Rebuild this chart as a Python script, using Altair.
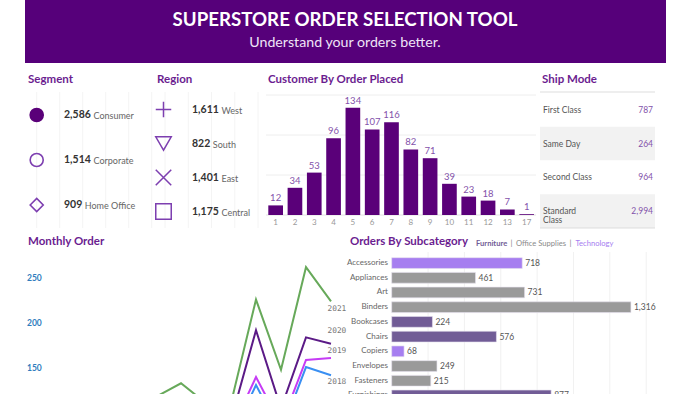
import altair as alt
import pandas as pd

# ---------------- data ----------------
segments = ["Consumer", "Corporate", "Home Office"]
segment_orders = [2586, 1514, 909]

regions = ["West", "South", "East", "Central"]
region_orders = [1611, 822, 1401, 1175]

orders_placed = ["1", "2", "3", "4", "5", "6", "7", "8", "9", "10", "11", "12", "13", "17"]
customer_counts = [12, 34, 53, 96, 134, 107, 116, 82, 71, 39, 23, 18, 7, 1]

ship_modes = ["First Class", "Same Day", "Second Class", "Standard Class"]
ship_orders = [787, 264, 964, 2994]

months = [1, 2, 3, 4, 5, 6, 7, 8, 9, 10, 11, 12]
years = ["2018", "2019", "2020", "2021"]
orders_2018 = [32, 28, 71, 66, 69, 66, 65, 72, 131, 78, 151, 142]
orders_2019 = [31, 29, 71, 73, 70, 69, 72, 80, 140, 87, 159, 161]
orders_2020 = [44, 47, 92, 92, 104, 98, 98, 92, 192, 105, 184, 177]
orders_2021 = [69, 53, 118, 116, 118, 133, 111, 111, 226, 148, 262, 224]

subcategories = ["Accessories", "Appliances", "Art", "Binders", "Bookcases", "Chairs",
                 "Copiers", "Envelopes", "Fasteners", "Furnishings", "Labels", "Machines",
                 "Paper", "Phones", "Storage", "Supplies", "Tables"]
subcategory_orders = [718, 461, 731, 1316, 224, 576, 68, 249, 215, 877, 357, 115,
                      1191, 814, 796, 184, 315]
subcategory_group = ["Technology", "Office Supplies", "Office Supplies", "Office Supplies",
                     "Furniture", "Furniture", "Technology", "Office Supplies",
                     "Office Supplies", "Furniture", "Office Supplies", "Technology",
                     "Office Supplies", "Technology", "Office Supplies", "Office Supplies",
                     "Furniture"]
groups = ["Furniture", "Office Supplies", "Technology"]

# ---------------- style ----------------
FONT = "Lato"
HEADER_BG = "#56007a"
TITLE_PURPLE = "#6b1d90"
BAR_PURPLE = "#5a0079"
SHAPE_PURPLE = "#7d3fb0"
LABEL_PURPLE = "#8352aa"
DARK_TEXT = "#333333"
GREY_TEXT = "#666666"
GRID = "#eeeeee"
YEAR_COLORS = ["#3a8ff2", "#c63cf5", "#5b1a86", "#67a95a"]
GROUP_COLORS = ["#715c96", "#9a9a9a", "#a67ef0"]
NUM_SIZE = 10.5

ONE = pd.DataFrame({"k": [0]})


def text_at(txt, x, y, size, color, weight="normal", align="left", font=FONT):
    return alt.Chart(ONE).mark_text(
        text=txt, align=align, baseline="middle", fontSize=size,
        fontWeight=weight, color=color, font=font
    ).encode(x=alt.value(x), y=alt.value(y))


def num_width(s):
    # approximate rendered width of a bold number in NUM_SIZE px Lato
    return sum(0.25 * NUM_SIZE if ch == "," else 0.58 * NUM_SIZE for ch in s)


# ---------------- header ----------------
header = alt.layer(
    alt.Chart(ONE).mark_rect(color=HEADER_BG).encode(
        x=alt.value(25), x2=alt.value(666), y=alt.value(0), y2=alt.value(63)),
    text_at("SUPERSTORE ORDER SELECTION TOOL", 345, 20, 18.7, "white", "bold", "center"),
    text_at("Understand your orders better.", 345, 43, 14.2, "#efe4f7", "normal", "center"),
)

titles = alt.layer(
    text_at("Segment", 28, 80, 11.5, TITLE_PURPLE, "bold"),
    text_at("Region", 157, 80, 11.5, TITLE_PURPLE, "bold"),
    text_at("Customer By Order Placed", 268, 80, 11.5, TITLE_PURPLE, "bold"),
    text_at("Ship Mode", 542, 80, 11.5, TITLE_PURPLE, "bold"),
    text_at("Monthly Order", 28, 242, 11.5, TITLE_PURPLE, "bold"),
    text_at("Orders By Subcategory", 350, 242, 11.5, TITLE_PURPLE, "bold"),
)

# ---------------- segment ----------------
seg_df = pd.DataFrame({"segment": segments, "orders": segment_orders})
seg_df["num"] = seg_df["orders"].map("{:,}".format)
seg_df["name_x"] = 64 + seg_df["num"].map(num_width) + 2.5

seg_y = alt.Y("segment:N", sort=segments, axis=None,
              scale=alt.Scale(domain=segments, range=[115, 205], padding=0))
seg_grid = alt.Chart(pd.DataFrame({"g": [0, 1, 2, 3, 4, 5]})).mark_rule(
    color="#f4f4f4", strokeWidth=1).encode(
    x=alt.X("g:Q", axis=None, scale=alt.Scale(domain=[0, 5], range=[36.7, 151.7])),
    y=alt.value(92), y2=alt.value(228))
seg_points = alt.Chart(seg_df).mark_point(strokeWidth=1.6, size=170, opacity=1).encode(
    x=alt.value(36.7), y=seg_y,
    shape=alt.Shape("segment:N", legend=None,
                    scale=alt.Scale(domain=segments, range=["circle", "circle", "diamond"])),
    fill=alt.Fill("segment:N", legend=None,
                  scale=alt.Scale(domain=segments, range=[BAR_PURPLE, "transparent", "transparent"])),
    stroke=alt.Stroke("segment:N", legend=None,
                      scale=alt.Scale(domain=segments, range=[BAR_PURPLE, SHAPE_PURPLE, SHAPE_PURPLE])),
)
seg_nums = alt.Chart(seg_df).mark_text(
    align="left", baseline="middle", fontSize=NUM_SIZE, fontWeight="bold", color=DARK_TEXT, font=FONT
).encode(x=alt.value(64), y=seg_y, text="num:N")
seg_names = alt.Chart(seg_df).mark_text(
    align="left", baseline="middle", fontSize=9, color=GREY_TEXT, font=FONT, dy=1
).encode(x=alt.X("name_x:Q", scale=None), y=seg_y, text="segment:N")
segment_panel = alt.layer(seg_grid, seg_points, seg_nums, seg_names)

# ---------------- region ----------------
reg_df = pd.DataFrame({"region": regions, "orders": region_orders})
reg_df["num"] = reg_df["orders"].map("{:,}".format)
reg_df["name_x"] = 192 + reg_df["num"].map(num_width) + 2.5

reg_y = alt.Y("region:N", sort=regions, axis=None,
              scale=alt.Scale(domain=regions, range=[109.5, 211.5], padding=0))
reg_grid = alt.Chart(pd.DataFrame({"g": [0, 1, 2, 3, 4]})).mark_rule(
    color="#f4f4f4", strokeWidth=1).encode(
    x=alt.X("g:Q", axis=None, scale=alt.Scale(domain=[0, 4], range=[165, 258])),
    y=alt.value(92), y2=alt.value(228))
region_shapes = ["M-1,0H1M0,-1V1", "triangle-down", "M-1,-1L1,1M-1,1L1,-1", "square"]
reg_points = alt.Chart(reg_df).mark_point(
    strokeWidth=1.5, size=240, color=SHAPE_PURPLE, opacity=1, filled=False).encode(
    x=alt.value(163.5), y=reg_y,
    shape=alt.Shape("region:N", legend=None,
                    scale=alt.Scale(domain=regions, range=region_shapes)),
)
reg_nums = alt.Chart(reg_df).mark_text(
    align="left", baseline="middle", fontSize=NUM_SIZE, fontWeight="bold", color=DARK_TEXT, font=FONT
).encode(x=alt.value(192), y=reg_y, text="num:N")
reg_names = alt.Chart(reg_df).mark_text(
    align="left", baseline="middle", fontSize=9, color=GREY_TEXT, font=FONT, dy=1
).encode(x=alt.X("name_x:Q", scale=None), y=reg_y, text="region:N")
region_panel = alt.layer(reg_grid, reg_points, reg_nums, reg_names)

# ---------------- customers by orders placed ----------------
cust_df = pd.DataFrame({"placed": orders_placed, "customers": customer_counts})
cx = alt.X("placed:N", sort=orders_placed, axis=None,
           scale=alt.Scale(domain=orders_placed, range=[268.3, 534],
                           paddingInner=0.24, paddingOuter=0))
cy = alt.Y("customers:Q", axis=None, scale=alt.Scale(domain=[0, 150], range=[215, 95]))
cust_grid = alt.Chart(pd.DataFrame({"customers": [50, 100, 150]})).mark_rule(
    color=GRID, strokeWidth=1).encode(y=cy, x=alt.value(266), x2=alt.value(536))
cust_base = alt.Chart(pd.DataFrame({"customers": [0]})).mark_rule(
    color="#e2e2e2", strokeWidth=1).encode(y=cy, x=alt.value(266), x2=alt.value(536))
cust_bars = alt.Chart(cust_df).mark_bar(color=BAR_PURPLE).encode(x=cx, y=cy)
cust_labels = alt.Chart(cust_df).mark_text(
    baseline="bottom", dy=-2, fontSize=9.5, color=LABEL_PURPLE, font=FONT
).encode(x=cx, y=cy, text="customers:Q")
cust_ticks = alt.Chart(cust_df).mark_text(
    baseline="middle", fontSize=8, color="#999999", font=FONT
).encode(x=cx, y=alt.value(223), text="placed:N")
customer_panel = alt.layer(cust_grid, cust_base, cust_bars, cust_labels, cust_ticks)

# ---------------- ship mode table ----------------
ship_df = pd.DataFrame({"mode": ship_modes, "orders": ship_orders})
ship_df["label"] = ship_df["mode"].map(lambda s: s.replace(" ", "\n") if len(s) > 12 else s)
ship_df["value"] = ship_df["orders"].map("{:,}".format)
sy = alt.Y("mode:N", sort=ship_modes, axis=None,
           scale=alt.Scale(domain=ship_modes, range=[93, 228], paddingInner=0, paddingOuter=0))
ship_rows = alt.Chart(ship_df).mark_rect().encode(
    y=sy, x=alt.value(540), x2=alt.value(655),
    fill=alt.Fill("mode:N", legend=None,
                  scale=alt.Scale(domain=ship_modes,
                                  range=["#ffffff", "#f2f2f2", "#ffffff", "#f2f2f2"])))
ship_names = alt.Chart(ship_df).mark_text(
    align="left", baseline="middle", fontSize=8.5, color="#555555", font=FONT,
    lineBreak="\n", lineHeight=9
).encode(y=sy, x=alt.value(543), text="label:N")
ship_vals = alt.Chart(ship_df).mark_text(
    align="right", baseline="middle", fontSize=8.5, color=LABEL_PURPLE, font=FONT
).encode(y=sy, x=alt.value(653), text="value:N")
ship_lines = alt.layer(
    alt.Chart(ONE).mark_rule(color="#dddddd").encode(
        x=alt.value(540), x2=alt.value(655), y=alt.value(92)),
    alt.Chart(ONE).mark_rule(color="#dddddd").encode(
        x=alt.value(540), x2=alt.value(655), y=alt.value(228)),
)
ship_panel = alt.layer(ship_rows, ship_lines, ship_names, ship_vals)

# ---------------- monthly orders ----------------
series = {"2018": orders_2018, "2019": orders_2019, "2020": orders_2020, "2021": orders_2021}
month_df = pd.DataFrame([
    {"month": m, "year": yr, "orders": v}
    for yr in years for m, v in zip(months, series[yr])
])
# vertical nudge (in orders) so end labels do not collide
label_nudge = {"2018": -8, "2019": 7.5, "2020": 14.5, "2021": -8.5}
end_df = month_df[month_df["month"] == 12].copy()
end_df["label_y"] = end_df["orders"] + end_df["year"].map(label_nudge)

mx = alt.X("month:Q", axis=None, scale=alt.Scale(domain=[1, 12], range=[56, 331]))
my_scale = alt.Scale(domain=[0, 250], range=[503, 278])
month_lines = alt.Chart(month_df).mark_line(strokeWidth=2).encode(
    x=mx, y=alt.Y("orders:Q", axis=None, scale=my_scale),
    color=alt.Color("year:N", legend=None, scale=alt.Scale(domain=years, range=YEAR_COLORS)),
    detail="year:N")
month_labels = alt.Chart(end_df).mark_text(
    align="left", baseline="middle", fontSize=7.8, color="#777777", font="DejaVu Sans Mono", dx=-3.5
).encode(x=mx, y=alt.Y("label_y:Q", axis=None, scale=my_scale), text="year:N")
# only the ticks that sit inside the visible band of the panel
month_axis = alt.Chart(pd.DataFrame({"tick": [150, 200, 250]})).mark_text(
    align="left", baseline="middle", fontSize=8.5, fontWeight="bold", color="#2f7dbd", font=FONT
).encode(x=alt.value(27), y=alt.Y("tick:Q", axis=None, scale=my_scale), text="tick:Q")
monthly_panel = alt.layer(month_lines, month_labels, month_axis)

# ---------------- orders by subcategory ----------------
sub_df = pd.DataFrame({"subcategory": subcategories, "orders": subcategory_orders,
                       "group": subcategory_group})
sub_df["value"] = sub_df["orders"].map("{:,}".format)
sx_scale = alt.Scale(domain=[0, 1400], range=[391.7, 646.2])
sy = alt.Y("subcategory:N", sort=subcategories, axis=None,
           scale=alt.Scale(domain=subcategories, range=[257.7, 503.8],
                           paddingInner=0.27, paddingOuter=0))
sub_grid = alt.Chart(pd.DataFrame({"g": [200, 400, 600, 800, 1000, 1200, 1400]})).mark_rule(
    color="#f1f1f1").encode(x=alt.X("g:Q", axis=None, scale=sx_scale),
                            y=alt.value(252), y2=alt.value(520))
sub_bars = alt.Chart(sub_df).mark_bar(stroke="#e6e0ee", strokeWidth=0.6).encode(
    x=alt.X("orders:Q", axis=None, scale=sx_scale), y=sy,
    color=alt.Color("group:N", legend=None,
                    scale=alt.Scale(domain=groups, range=GROUP_COLORS)))
sub_vals = alt.Chart(sub_df).mark_text(
    align="left", baseline="middle", dx=3, fontSize=8.5, color="#555555", font=FONT
).encode(x=alt.X("orders:Q", axis=None, scale=sx_scale), y=sy, text="value:N")
sub_names = alt.Chart(sub_df).mark_text(
    align="right", baseline="middle", fontSize=8, color="#666666", font=FONT
).encode(x=alt.value(388), y=sy, text="subcategory:N")
sub_legend = alt.layer(
    text_at("Furniture", 476, 244, 7.6, GROUP_COLORS[0], "bold"),
    text_at("|", 510.5, 244, 8, "#888888"),
    text_at("Office Supplies", 516, 244, 7.6, "#8a8a8a"),
    text_at("|", 569.5, 244, 8, "#888888"),
    text_at("Technology", 575.5, 244, 7.6, GROUP_COLORS[2]),
)
subcategory_panel = alt.layer(sub_grid, sub_bars, sub_vals, sub_names, sub_legend)

# ---------------- dashboard ----------------
chart = alt.layer(
    header, titles, segment_panel, region_panel, customer_panel,
    ship_panel, monthly_panel, subcategory_panel
).resolve_scale(
    x="independent", y="independent", color="independent", fill="independent",
    stroke="independent", shape="independent"
).properties(
    width=700, height=394, padding=0, autosize="none", background="white"
).configure_view(stroke=None)

chart.save("out.html", embed_options={"renderer": "svg", "actions": False})
